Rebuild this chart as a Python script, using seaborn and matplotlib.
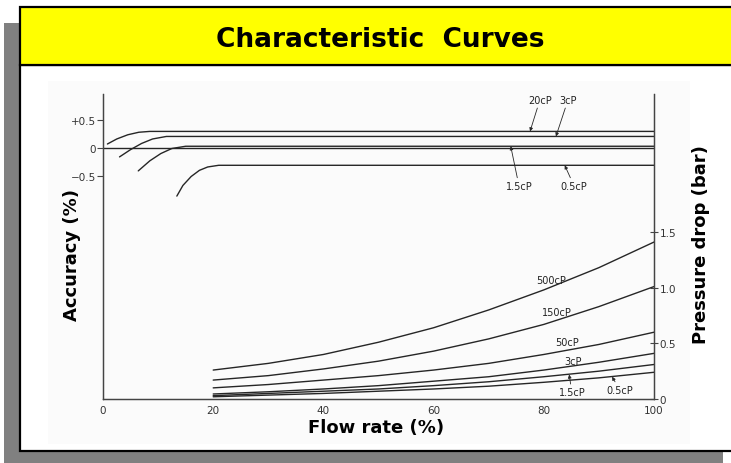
import numpy as np
import pandas as pd
import matplotlib
matplotlib.use("Agg")
import matplotlib.pyplot as plt
import seaborn as sns
from matplotlib.patches import Rectangle

# ---- data ----
# accuracy curves (flow %, accuracy %)
acc_20_x = [0.8, 2.5, 4.5, 6.5, 8.5, 100]
acc_20_y = [0.08, 0.17, 0.245, 0.29, 0.305, 0.305]
acc_3_x = [3.0, 5.0, 7.0, 9.0, 11.5, 100]
acc_3_y = [-0.15, -0.02, 0.09, 0.17, 0.215, 0.215]
acc_15_x = [6.4, 8.5, 10.5, 12.5, 15.0, 100]
acc_15_y = [-0.40, -0.22, -0.09, 0.0, 0.04, 0.04]
acc_05_x = [13.4, 14.5, 16.0, 17.5, 19.0, 21.0, 100]
acc_05_y = [-0.85, -0.66, -0.50, -0.39, -0.33, -0.30, -0.30]

# pressure drop curves (bar) at flow 20..100 %
flow = [20, 30, 40, 50, 60, 70, 80, 90, 100]
dp_500 = [0.26, 0.32, 0.40, 0.51, 0.64, 0.80, 0.98, 1.18, 1.41]
dp_150 = [0.17, 0.21, 0.27, 0.34, 0.43, 0.54, 0.67, 0.83, 1.01]
dp_50 = [0.10, 0.13, 0.17, 0.21, 0.26, 0.32, 0.40, 0.49, 0.60]
dp_3 = [0.045, 0.065, 0.09, 0.12, 0.16, 0.20, 0.26, 0.33, 0.41]
dp_15 = [0.03, 0.05, 0.07, 0.09, 0.12, 0.155, 0.20, 0.25, 0.31]
dp_05 = [0.02, 0.035, 0.05, 0.07, 0.09, 0.115, 0.15, 0.19, 0.24]

x_ticks = [0, 20, 40, 60, 80, 100]
acc_ticks = [0.5, 0, -0.5]
acc_tick_labels = ["+0.5", "0", "\u22120.5"]
dp_ticks = [0, 0.5, 1.0, 1.5]
dp_tick_labels = ["0", "0.5", "1.0", "1.5"]

sns.set_style("white")
plt.rcParams['font.family'] = ['DejaVu Sans']

W, H = 731, 464
fig = plt.figure(figsize=(7.31, 4.64), dpi=100)


def fx(x):
    return x / W


def fy(y):
    return 1 - y / H


def box(x0, y0, x1, y1, **kw):
    fig.patches.append(Rectangle((fx(x0), fy(y1)), (x1 - x0) / W, (y1 - y0) / H,
                                 transform=fig.transFigure, **kw))


# slide frame
box(4, 24, 723, 470, facecolor='#808080', edgecolor='none', zorder=0)
box(20, 66, 745, 452, facecolor='white', edgecolor='black', lw=1.6, zorder=1)
box(48, 82, 690, 445, facecolor='#fbfbfb', edgecolor='none', zorder=1.5)
box(20, 8, 745, 66, facecolor='#ffff00', edgecolor='black', lw=1.6, zorder=2)
fig.text(fx(380), fy(40), "Characteristic  Curves", ha='center', va='center',
         fontsize=19, fontweight='bold', color='black', zorder=10)

# ---- plot axes ----
ax = fig.add_axes([fx(103), fy(400), (654 - 103) / W, (400 - 95) / H])
ax.set_zorder(5)
ax.patch.set_visible(False)
ax2 = ax.twinx()
ax2.set_zorder(6)
ax2.patch.set_visible(False)

lc = '#262626'
lw = 1.0

acc_sets = [(acc_20_x, acc_20_y), (acc_3_x, acc_3_y), (acc_15_x, acc_15_y), (acc_05_x, acc_05_y)]
for xs, ys in acc_sets:
    sns.lineplot(x=xs, y=ys, ax=ax, color=lc, lw=lw, estimator=None, sort=False)
ax.axhline(0, color=lc, lw=lw)

for dp in [dp_500, dp_150, dp_50, dp_3, dp_15, dp_05]:
    sns.lineplot(x=flow, y=dp, ax=ax2, color=lc, lw=lw, estimator=None, sort=False)

ax.set_xlim(0, 100)
ax.set_ylim(-4.473, 0.973)
ax2.set_ylim(0, 2.74)

for a in (ax, ax2):
    a.spines['top'].set_visible(False)
    for s in ('left', 'right', 'bottom'):
        a.spines[s].set_color('#444')
        a.spines[s].set_linewidth(0.9)

tick_font = dict(fontsize=7.5, color='#333')
ax.set_xticks(x_ticks)
ax.set_xticklabels([str(t) for t in x_ticks], **tick_font)
ax.set_yticks(acc_ticks)
ax.set_yticklabels(acc_tick_labels, **tick_font)
ax2.set_yticks(dp_ticks)
ax2.set_yticklabels(dp_tick_labels, **tick_font)
ax.tick_params(axis='x', direction='inout', length=5, width=0.8, color='#444', pad=2)
ax.tick_params(axis='y', direction='out', length=4, width=0.8, color='#444', pad=1)
ax2.tick_params(axis='y', direction='inout', length=6, width=0.8, color='#444', pad=1)

# annotations
arr = dict(arrowstyle='-|>', color=lc, lw=0.6, mutation_scale=5, shrinkA=0, shrinkB=0)
lab = dict(fontsize=7, color='#222', ha='center', va='center')
ax.annotate("20cP", xy=(77.5, 0.305), xytext=(79.3, 0.87), arrowprops=arr, **lab)
ax.annotate("3cP", xy=(82.2, 0.215), xytext=(84.4, 0.87), arrowprops=arr, **lab)
ax.annotate("1.5cP", xy=(74.0, 0.04), xytext=(75.5, -0.67), arrowprops=arr, **lab)
ax.annotate("0.5cP", xy=(83.8, -0.30), xytext=(85.5, -0.67), arrowprops=arr, **lab)

ax2.text(81.3, 1.07, "500cP", **lab)
ax2.text(82.4, 0.78, "150cP", **lab)
ax2.text(84.2, 0.51, "50cP", **lab)
ax2.text(85.3, 0.34, "3cP", **lab)
ax2.annotate("1.5cP", xy=(84.6, 0.22), xytext=(85.1, 0.06), arrowprops=arr, **lab)
ax2.annotate("0.5cP", xy=(92.4, 0.20), xytext=(93.8, 0.08), arrowprops=arr, **lab)

# axis titles
fig.text(fx(72), fy(255), "Accuracy (%)", rotation=90, ha='center', va='center',
         fontsize=13, fontweight='bold', color='black', zorder=10)
fig.text(fx(701), fy(245), "Pressure drop (bar)", rotation=90, ha='center', va='center',
         fontsize=13, fontweight='bold', color='black', zorder=10)
fig.text(fx(376), fy(428), "Flow rate (%)", ha='center', va='center',
         fontsize=13, fontweight='bold', color='black', zorder=10)

fig.savefig("out.png", dpi=100)
